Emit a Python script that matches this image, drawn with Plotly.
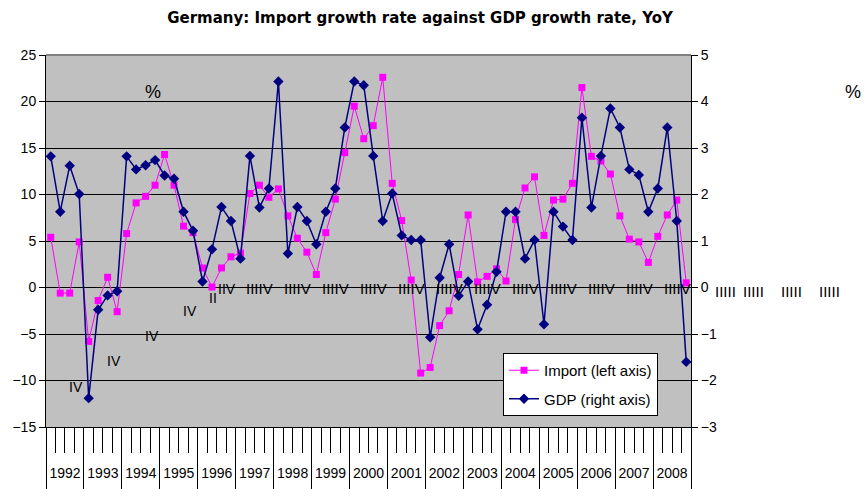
import plotly.graph_objects as go

# ---------------- data ----------------
years = list(range(1992, 2009))
quarter_labels = ["I", "II", "III", "IV"]

import_growth = [5.4, -0.6, -0.6, 4.9, -5.8, -1.4, 1.1, -2.6,
                 5.8, 9.1, 9.8, 11.0, 14.3, 11.0, 6.6, 5.9,
                 2.1, 0.05, 2.1, 3.3, 3.7, 10.1, 11.0, 9.7,
                 10.6, 7.7, 5.3, 3.8, 1.4, 5.9, 9.5, 14.5,
                 19.5, 16.0, 17.4, 22.6, 11.2, 7.2, 0.8, -9.2,
                 -8.6, -4.1, -2.5, 1.4, 7.8, 0.6, 1.2, 2.0,
                 0.7, 7.3, 10.7, 11.9, 5.6, 9.4, 9.5, 11.2,
                 21.5, 14.1, 13.6, 12.2, 7.7, 5.2, 4.9, 2.7,
                 5.5, 7.8, 9.4, 0.5]

gdp_growth = [2.82, 1.63, 2.62, 2.01, -2.38, -0.48, -0.17, -0.08,
              2.82, 2.54, 2.63, 2.74, 2.41, 2.34, 1.63, 1.22,
              0.13, 0.82, 1.73, 1.43, 0.62, 2.83, 1.72, 2.13,
              4.43, 0.73, 1.73, 1.43, 0.93, 1.63, 2.13, 3.44,
              4.43, 4.35, 2.83, 1.43, 2.02, 1.12, 1.02, 1.02,
              -1.07, 0.21, 0.93, -0.18, 0.13, -0.9, -0.37, 0.34,
              1.63, 1.63, 0.62, 1.02, -0.79, 1.63, 1.31, 1.02,
              3.65, 1.72, 2.83, 3.85, 3.44, 2.54, 2.42, 1.63,
              2.13, 3.44, 1.43, -1.6]

left_ticks = [-15, -10, -5, 0, 5, 10, 15, 20, 25]
right_ticks = [-3, -2, -1, 0, 1, 2, 3, 4, 5]

# stray (overlapping) quarter-label texts seen in the original chart
stray_diag_text = ["IV", "IV", "IV", "IV"]
stray_diag_y = [-10.7, -7.9, -5.2, -2.55]
stray_row_text = ["IIIIV"] * 12 + ["IIIII"] * 4

FONT = "Arial, Liberation Sans, Helvetica, sans-serif"
WIDE = "DejaVu Sans, Verdana, sans-serif"

n = len(import_growth)
idx = list(range(n))
year_bounds = [4 * k - 0.5 for k in range(len(years) + 1)]
quarter_bounds = [i + 0.5 for i in range(n - 1)]
year_centers = [4 * k + 1.5 for k in range(len(years))]
y_lo, y_hi = left_ticks[0], left_ticks[-1]

fig = go.Figure()
fig.add_trace(go.Scatter(
    x=idx, y=import_growth, name="Import (left axis)", mode="lines+markers",
    line=dict(color="#FF00FF", width=1),
    marker=dict(symbol="square", size=7, color="#FF00FF"),
    xaxis="x", yaxis="y", legendgroup="imp"))
fig.add_trace(go.Scatter(
    x=idx, y=gdp_growth, name="GDP (right axis)", mode="lines+markers",
    line=dict(color="#000080", width=1.5),
    marker=dict(symbol="diamond", size=8, color="#000080"),
    xaxis="x", yaxis="y2", legendgroup="gdp"))
# carrier trace so the year-label axis is drawn
fig.add_trace(go.Scatter(
    x=year_centers, y=[None] * len(year_centers), xaxis="x2", yaxis="y",
    mode="markers", showlegend=False, hoverinfo="skip"))

annotations = [
    dict(text="%", xref="paper", yref="paper", x=(153 - 46) / 645, y=(427 - 92) / 372,
         xanchor="center", yanchor="middle",
         showarrow=False, font=dict(family=FONT, size=18, color="black")),
    dict(text="%", xref="paper", yref="paper", x=(863 - 46) / 645, y=(427 - 92) / 372,
         xanchor="right", yanchor="middle",
         showarrow=False, font=dict(family=FONT, size=18, color="black")),
    dict(text="I", xref="x", yref="y", x=-0.8, y=-14.2, showarrow=False,
         font=dict(family=FONT, size=14, color="black")),
    dict(text="II", xref="x", yref="y", x=17.1, y=-1.1, showarrow=False,
         font=dict(family=FONT, size=14, color="black")),
    dict(text="IIV", xref="x", yref="y", x=18.6, y=-0.15, showarrow=False,
         font=dict(family=FONT, size=14, color="black")),
]
for k, (t, yy) in enumerate(zip(stray_diag_text, stray_diag_y)):
    annotations.append(dict(text=t, xref="x", yref="y", x=year_centers[k] + 1.17, y=yy,
                            showarrow=False, font=dict(family=FONT, size=14, color="black")))
for k, t in enumerate(stray_row_text):
    xx = year_centers[5] + 4 * k + 0.55
    if k < 12:
        annotations.append(dict(text=t, xref="x", yref="y", x=xx, y=-0.15,
                                showarrow=False, font=dict(family=FONT, size=15, color="black")))
    else:
        annotations.append(dict(text=t, xref="paper", yref="paper",
                                x=(xx + 0.5) / n, y=(-0.45 - y_lo) / (y_hi - y_lo),
                                xanchor="center", yanchor="middle",
                                xshift=10 if k == 12 else 0,
                                showarrow=False, font=dict(family=FONT, size=15, color="black")))

fig.update_layout(
    width=864, height=489,
    margin=dict(l=46, r=173, t=55, b=62, autoexpand=False),
    paper_bgcolor="white", plot_bgcolor="#C0C0C0",
    font=dict(family=FONT, size=14, color="black"),
    title=dict(text="<b>Germany: Import growth rate against GDP growth rate, YoY</b>",
               x=420 / 864, xanchor="center", y=1 - 18 / 489, yanchor="middle",
               font=dict(family=WIDE, size=15, color="black")),
    xaxis=dict(range=[-0.5, n - 0.5], tickmode="array", tickvals=year_bounds,
               ticks="outside", ticklen=66, tickwidth=1, tickcolor="black",
               showticklabels=False, showgrid=False, zeroline=False, automargin=False,
               showline=True, linecolor="black", linewidth=1,
               minor=dict(tickmode="array", tickvals=quarter_bounds, ticks="outside",
                          ticklen=25, tickwidth=1, tickcolor="black", showgrid=False)),
    xaxis2=dict(range=[-0.5, n - 0.5], overlaying="x", anchor="y", side="bottom",
                tickmode="array", tickvals=year_centers, ticktext=[str(y) for y in years],
                ticks="outside", ticklen=33, tickcolor="rgba(0,0,0,0)", automargin=False,
                showgrid=False, zeroline=False, showline=False,
                tickfont=dict(family=FONT, size=14, color="black")),
    yaxis=dict(range=[y_lo, y_hi], tickmode="array", tickvals=left_ticks,
               ticks="outside", ticklen=6, tickcolor="black", automargin=False,
               showgrid=True, gridcolor="black", gridwidth=1, zeroline=False,
               showline=True, linecolor="black", linewidth=1,
               tickfont=dict(family=FONT, size=14, color="black")),
    yaxis2=dict(range=[-3, 5], tickmode="array", tickvals=right_ticks,
                overlaying="y", side="right", anchor="x", automargin=False,
                ticks="outside", ticklen=6, tickcolor="black",
                showgrid=False, zeroline=False,
                showline=True, linecolor="black", linewidth=1,
                tickfont=dict(family=FONT, size=14, color="black")),
    legend=dict(x=(503 - 46) / 645, y=(427 - 353) / 372, xanchor="left", yanchor="top",
                bgcolor="white", bordercolor="black", borderwidth=1,
                font=dict(family=FONT, size=15, color="black"), tracegroupgap=6),
    showlegend=True,
    annotations=annotations,
    shapes=[dict(type="line", xref="paper", yref="paper", x0=0, x1=1, y0=1, y1=1,
                 line=dict(color="#808080", width=2))],
)

fig.write_html("out.html")
